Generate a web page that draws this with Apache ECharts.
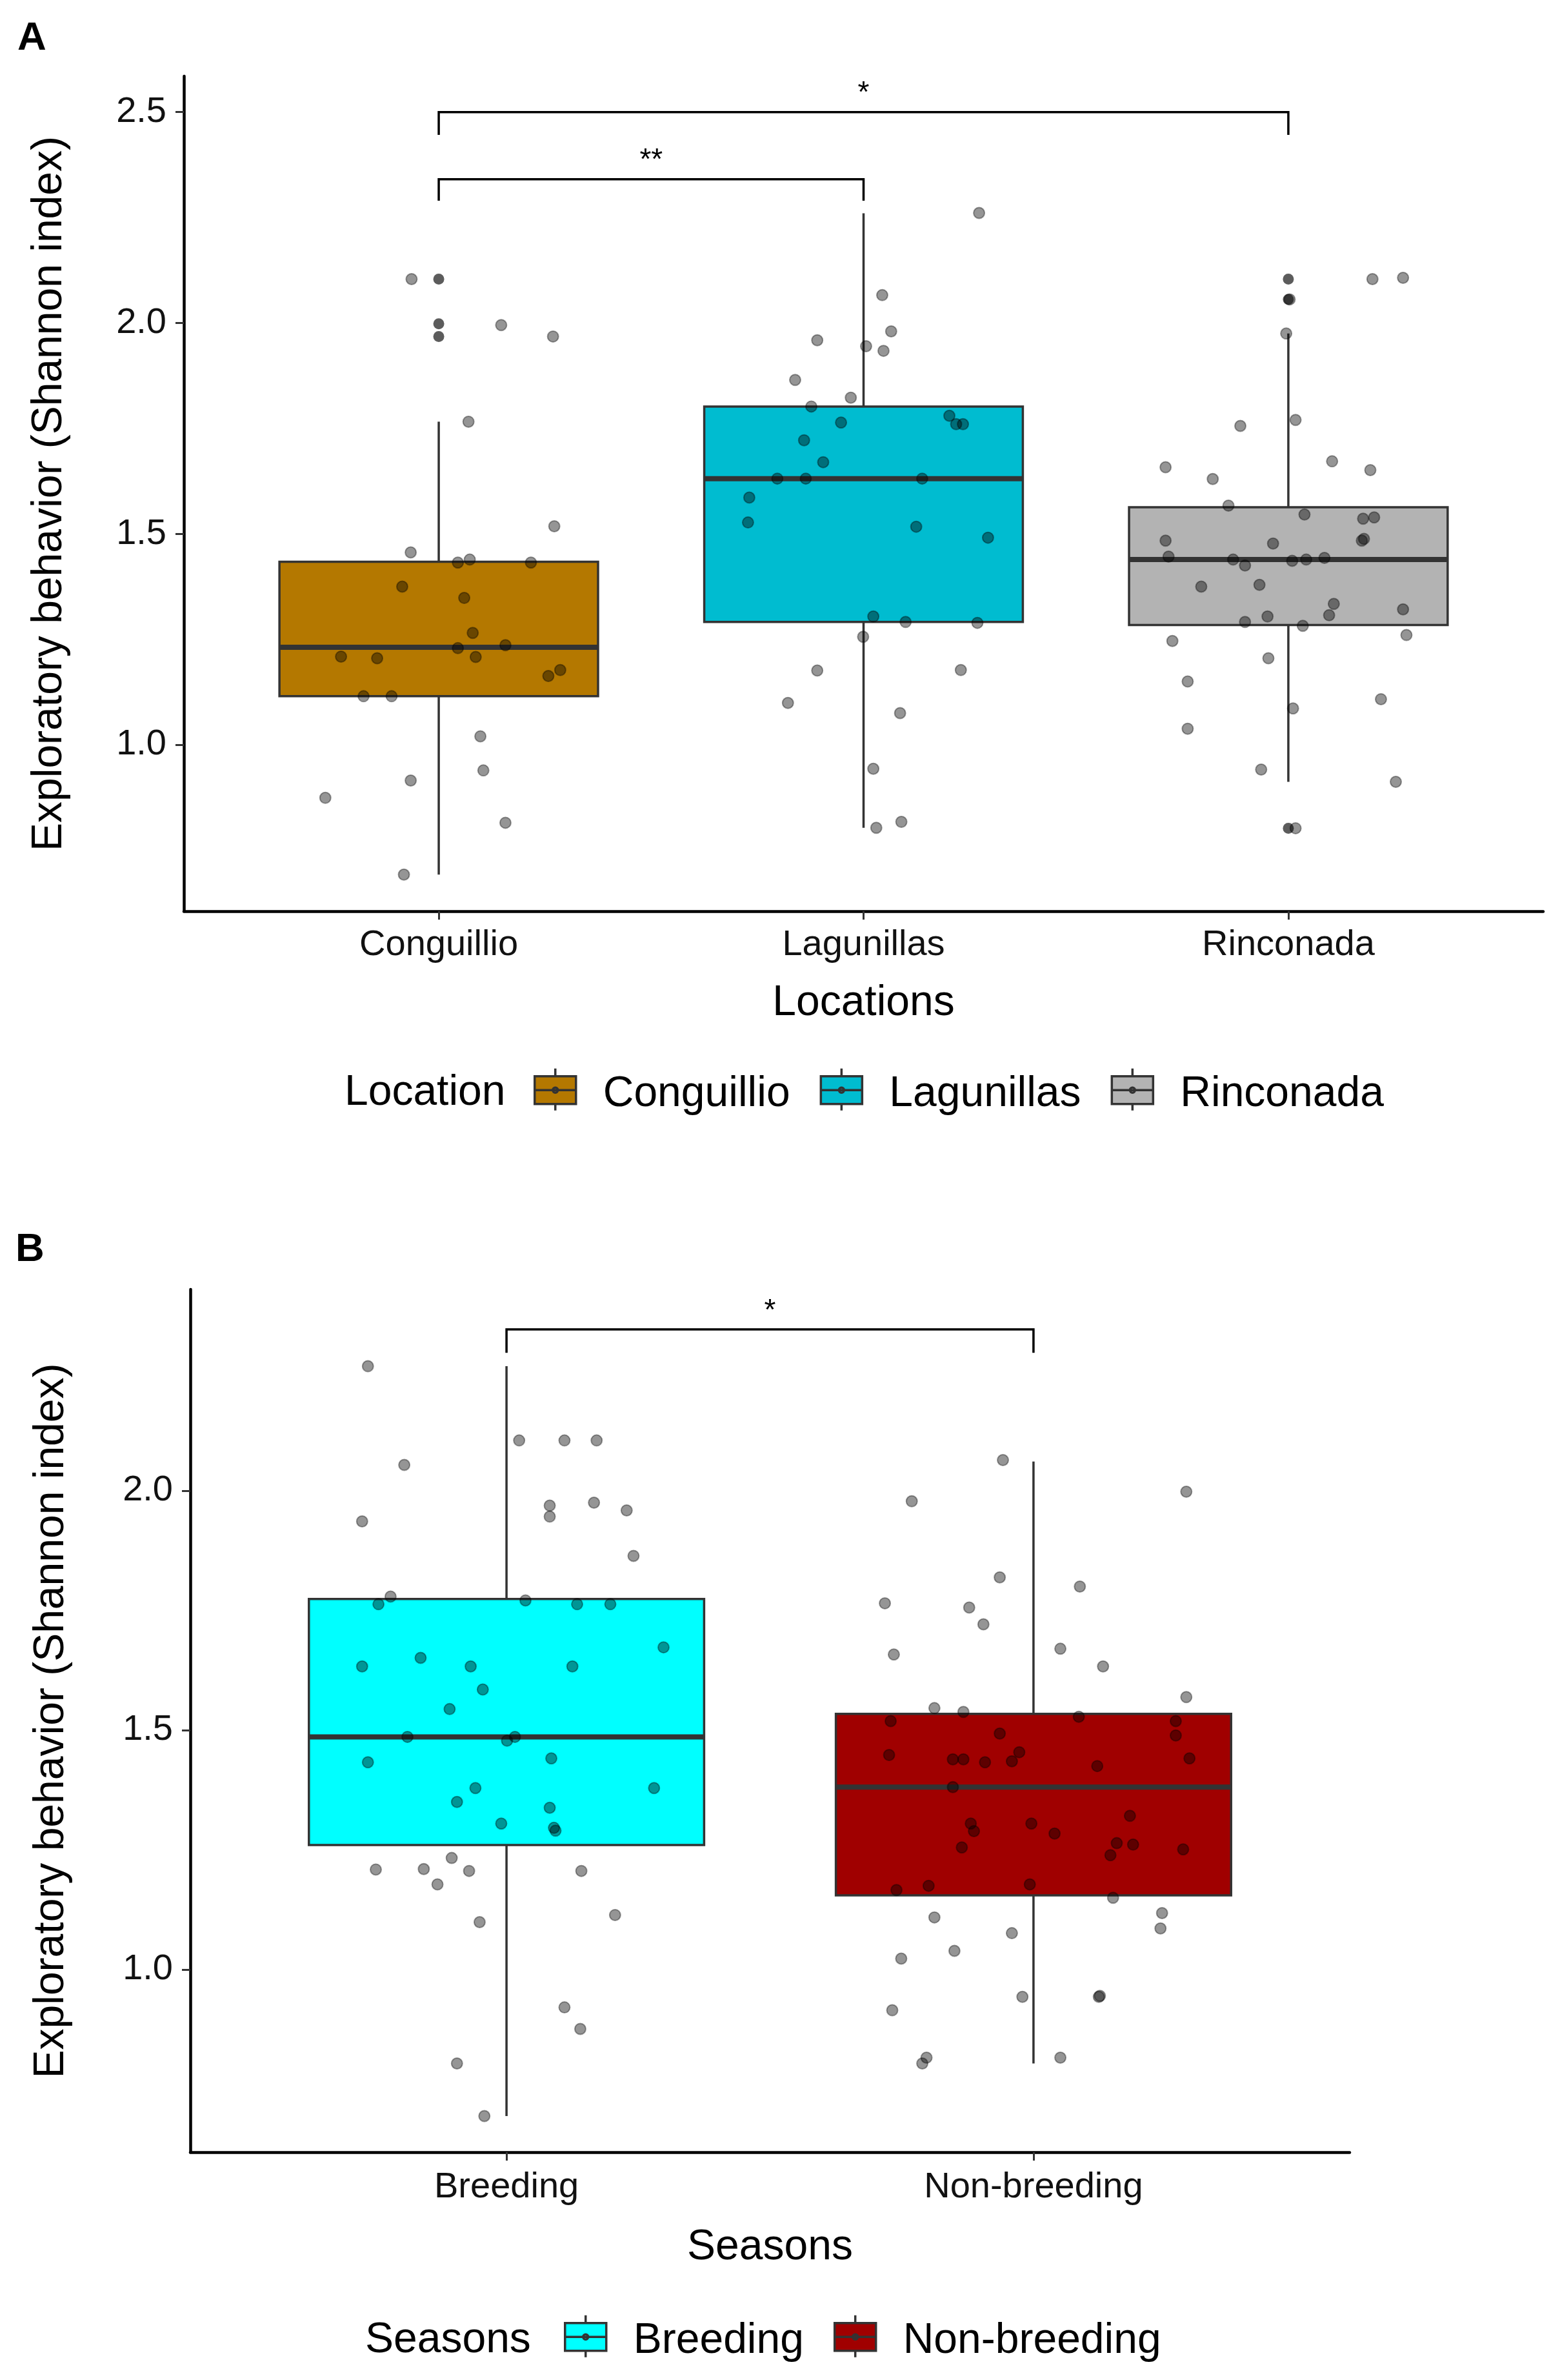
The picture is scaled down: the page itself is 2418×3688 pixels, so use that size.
<!DOCTYPE html>
<html>
<head>
<meta charset="utf-8">
<script src="https://cdn.jsdelivr.net/npm/echarts@6/dist/echarts.min.js"></script>
<style>
  body { margin: 0; background: #fff; }
  #chart { width: 2418px; height: 3688px; }
</style>
</head>
<body>
<div id="chart"></div>
<script>
// panel A: locations
const locations = ['Conguillio', 'Lagunillas', 'Rinconada'];
const locColors = ['#B47800', '#00BCD0', '#B3B3B3'];
// [x, lower whisker, Q1, median, Q3, upper whisker]
const locBoxes = [
  [1, 0.692, 1.115, 1.231, 1.434, 1.766],
  [2, 0.803, 1.291, 1.631, 1.802, 2.260],
  [3, 0.912, 1.284, 1.439, 1.563, 1.975]
];
const locOutliers = [[1, 2.104], [1, 1.998], [1, 1.968], [3, 2.104], [3, 2.056], [3, 0.802]];

const conguillioPts = [
  [0.936, 2.104], [1.147, 1.995], [1.269, 1.968], [1.070, 1.766], [1.272, 1.518], [0.934, 1.456],
  [1.045, 1.432], [1.073, 1.439], [1.217, 1.432], [0.914, 1.375], [1.060, 1.348], [1.080, 1.265],
  [1.045, 1.229], [1.157, 1.236], [0.770, 1.209], [0.855, 1.205], [1.087, 1.208], [1.258, 1.163],
  [1.286, 1.177], [0.823, 1.115], [0.889, 1.115], [1.098, 1.020], [1.105, 0.939], [0.934, 0.915],
  [0.733, 0.874], [1.157, 0.815], [0.918, 0.692]
];
const lagunillasPts = [
  [2.272, 2.261], [2.044, 2.066], [2.065, 1.980], [2.006, 1.945], [2.047, 1.934], [1.891, 1.959],
  [1.839, 1.865], [1.970, 1.823], [1.877, 1.802], [1.947, 1.764], [1.860, 1.722], [1.905, 1.670],
  [1.797, 1.631], [1.864, 1.631], [2.138, 1.631], [1.731, 1.586], [1.728, 1.527], [2.124, 1.517],
  [2.023, 1.304], [2.099, 1.291], [1.999, 1.256], [1.891, 1.176], [1.822, 1.099], [2.086, 1.075],
  [2.023, 0.943], [2.030, 0.803], [2.089, 0.817], [2.202, 1.780], [2.218, 1.760], [2.234, 1.760],
  [2.293, 1.491], [2.268, 1.289], [2.229, 1.177]
];
const rinconadaPts = [
  [2.995, 1.975], [3.198, 2.104], [3.270, 2.107], [3.017, 1.770], [2.887, 1.756], [3.103, 1.672],
  [2.711, 1.658], [3.193, 1.651], [2.822, 1.630], [2.859, 1.567], [3.038, 1.546], [3.176, 1.536],
  [3.202, 1.539], [2.711, 1.484], [3.173, 1.484], [3.178, 1.488], [2.964, 1.477], [2.718, 1.446],
  [2.870, 1.439], [2.898, 1.425], [3.009, 1.436], [3.042, 1.439], [3.085, 1.443], [2.795, 1.375],
  [2.932, 1.379], [3.107, 1.334], [3.270, 1.321], [3.096, 1.307], [2.951, 1.304], [2.898, 1.291],
  [3.034, 1.282], [3.278, 1.260], [2.727, 1.246], [2.953, 1.205], [2.763, 1.150], [3.218, 1.108],
  [3.011, 1.086], [2.763, 1.038], [2.936, 0.941], [3.253, 0.912], [3.017, 0.802], [3.003, 2.056]
];
// significance brackets: [from, to, bracket level, tip end]
const locSig = [[1, 2, 2.341, 2.290], [1, 3, 2.500, 2.446]];
const locSigLabels = ['**', '*'];

// panel B: seasons
const seasons = ['Breeding', 'Non-breeding'];
const seasonColors = ['#00FFFF', '#A00000'];
const seasonBoxes = [
  [1, 0.694, 1.260, 1.486, 1.774, 2.260],
  [2, 0.804, 1.155, 1.381, 1.534, 2.061]
];
const breedingPts = [
  [0.737, 2.260], [1.024, 2.105], [1.110, 2.105], [1.171, 2.105], [0.806, 2.054], [1.082, 1.969],
  [1.082, 1.946], [1.166, 1.975], [1.228, 1.959], [0.726, 1.936], [1.241, 1.864], [0.780, 1.779],
  [0.757, 1.763], [1.036, 1.771], [1.134, 1.763], [1.197, 1.763], [1.298, 1.673], [0.837, 1.651],
  [0.726, 1.633], [0.932, 1.633], [1.125, 1.633], [0.955, 1.585], [0.892, 1.544], [0.812, 1.486],
  [1.001, 1.478], [1.016, 1.486], [0.737, 1.433], [1.085, 1.441], [0.941, 1.379], [1.280, 1.379],
  [0.906, 1.350], [1.082, 1.338], [0.990, 1.305], [1.090, 1.296], [1.093, 1.290], [0.752, 1.209],
  [0.843, 1.210], [0.896, 1.233], [0.929, 1.206], [0.869, 1.178], [1.142, 1.206], [0.949, 1.099],
  [1.206, 1.114], [1.110, 0.921], [1.140, 0.876], [0.906, 0.804], [0.958, 0.694]
];
const nonBreedingPts = [
  [1.942, 2.064], [1.769, 1.978], [2.290, 1.998], [1.936, 1.819], [2.088, 1.800], [1.718, 1.765],
  [1.878, 1.756], [1.905, 1.721], [1.735, 1.658], [2.051, 1.670], [2.132, 1.633], [2.290, 1.569],
  [1.812, 1.546], [1.867, 1.538], [1.729, 1.519], [2.086, 1.528], [2.270, 1.519], [2.270, 1.489],
  [1.936, 1.493], [1.973, 1.454], [1.726, 1.448], [1.847, 1.439], [1.867, 1.439], [1.908, 1.433],
  [1.959, 1.435], [2.121, 1.425], [2.296, 1.441], [1.847, 1.381], [1.881, 1.305], [1.887, 1.289],
  [1.996, 1.305], [2.040, 1.284], [2.183, 1.321], [2.158, 1.264], [2.189, 1.261], [2.146, 1.239],
  [1.864, 1.255], [2.284, 1.251], [1.740, 1.166], [1.801, 1.175], [1.993, 1.178], [2.151, 1.150],
  [1.812, 1.109], [2.244, 1.118], [2.241, 1.086], [1.959, 1.076], [1.850, 1.039], [1.749, 1.023],
  [1.979, 0.943], [2.124, 0.943], [2.126, 0.945], [1.732, 0.915], [1.797, 0.816], [1.789, 0.804],
  [2.051, 0.816]
];
const seasonSig = [[1, 2, 2.337, 2.288]];
const seasonSigLabels = ['*'];

const yTicksA = [1.0, 1.5, 2.0, 2.5];
const yTicksB = [1.0, 1.5, 2.0];

const FONT = 'Liberation Sans, Arial, sans-serif';
const LINE = '#333333';
// legend key: whiskers, box, median and the jitter dot; the last moveTo leaves
// empty room under the key so the label sits a little lower, as in ggplot
const legendIcon = 'path://M32,0V12M0,12H64V55H0ZM0,33.5H64M32,55V65' +
  'M36,33.5A4,4 0 1 1 28,33.5A4,4 0 1 1 36,33.5ZM32,80';

// box without whisker caps, thick median (ggplot style)
function renderBox(params, api) {
  const x = api.value(0);
  const lo = api.coord([x, api.value(1)]);
  const q1 = api.coord([x, api.value(2)]);
  const med = api.coord([x, api.value(3)]);
  const q3 = api.coord([x, api.value(4)]);
  const hi = api.coord([x, api.value(5)]);
  const half = api.size([0.75, 0])[0] / 2;
  return {
    type: 'group',
    children: [
      { type: 'line', shape: { x1: hi[0], y1: hi[1], x2: q3[0], y2: q3[1] }, style: { stroke: LINE, lineWidth: 3.5 } },
      { type: 'line', shape: { x1: q1[0], y1: q1[1], x2: lo[0], y2: lo[1] }, style: { stroke: LINE, lineWidth: 3.5 } },
      { type: 'rect', shape: { x: q3[0] - half, y: q3[1], width: half * 2, height: q1[1] - q3[1] },
        style: { fill: api.visual('color'), stroke: LINE, lineWidth: 3.5 } },
      { type: 'line', shape: { x1: med[0] - half, y1: med[1], x2: med[0] + half, y2: med[1] }, style: { stroke: LINE, lineWidth: 8 } }
    ]
  };
}

function bracketRenderer(labels) {
  return function (params, api) {
    const x1 = api.value(0), x2 = api.value(1), lvl = api.value(2), tip = api.value(3);
    const a = api.coord([x1, tip]);
    const b = api.coord([x1, lvl]);
    const c = api.coord([x2, lvl]);
    const d = api.coord([x2, tip]);
    return {
      type: 'group',
      children: [
        { type: 'polyline', shape: { points: [a, b, c, d] }, style: { stroke: '#000', lineWidth: 3.5, fill: null } },
        { type: 'text', x: (b[0] + c[0]) / 2, y: b[1] - 5,
          style: { text: labels[params.dataIndex], fill: '#000', font: '46px ' + FONT, align: 'center', verticalAlign: 'bottom' } }
      ]
    };
  };
}

function boxSeries(name, box, color, axisIndex) {
  return {
    name: name,
    type: 'custom',
    xAxisIndex: axisIndex,
    yAxisIndex: axisIndex,
    renderItem: renderBox,
    itemStyle: { color: color, borderColor: LINE, borderWidth: 3.5 },
    encode: { x: 0, y: [1, 2, 3, 4, 5] },
    data: [box],
    z: 2
  };
}

const axisText = { fontSize: 56, color: '#111', fontFamily: FONT };
const nameText = { fontSize: 66, color: '#000', fontFamily: FONT };

function xAxisFor(names, idx, gap, labelMargin) {
  const ticks = names.map((n, i) => i + 1);
  return {
    type: 'value', gridIndex: idx, min: 0.4, max: names.length + 0.6,
    name: idx === 0 ? 'Locations' : 'Seasons', nameLocation: 'middle', nameGap: gap, nameTextStyle: nameText,
    axisLine: { show: true, onZero: false, lineStyle: { color: '#000', width: 4.5 } },
    axisTick: { show: true, length: 13, customValues: ticks, lineStyle: { color: LINE, width: 3 } },
    axisLabel: Object.assign({ margin: labelMargin, customValues: ticks, formatter: v => names[Math.round(v) - 1] }, axisText),
    splitLine: { show: false }
  };
}

function yAxisFor(idx, min, max, ticks, gap) {
  return {
    type: 'value', gridIndex: idx, min: min, max: max,
    name: 'Exploratory behavior (Shannon index)', nameLocation: 'middle', nameGap: gap, nameTextStyle: nameText,
    axisLine: { show: true, onZero: false, lineStyle: { color: '#000', width: 4.5 } },
    axisTick: { show: true, length: 13, customValues: ticks, lineStyle: { color: LINE, width: 3 } },
    axisLabel: Object.assign({ margin: 27, customValues: ticks, formatter: v => v.toFixed(1) }, axisText),
    splitLine: { show: false }
  };
}

const jitterStyle = { color: 'rgba(0,0,0,0.52)', borderColor: 'rgba(0,0,0,0.45)', borderWidth: 2 };

const series = [];
locations.forEach((n, i) => series.push(boxSeries(n, locBoxes[i], locColors[i], 0)));
seasons.forEach((n, i) => series.push(boxSeries(n, seasonBoxes[i], seasonColors[i], 1)));
series.push({
  name: 'outliersA', type: 'scatter', xAxisIndex: 0, yAxisIndex: 0, symbolSize: 17,
  itemStyle: { color: LINE }, data: locOutliers, z: 3
});
series.push({
  name: 'pointsA', type: 'scatter', xAxisIndex: 0, yAxisIndex: 0, symbolSize: 17,
  itemStyle: jitterStyle, data: conguillioPts.concat(lagunillasPts, rinconadaPts), z: 4
});
series.push({
  name: 'pointsB', type: 'scatter', xAxisIndex: 1, yAxisIndex: 1, symbolSize: 17,
  itemStyle: jitterStyle, data: breedingPts.concat(nonBreedingPts), z: 4
});
series.push({
  name: 'sigA', type: 'custom', xAxisIndex: 0, yAxisIndex: 0, clip: false,
  renderItem: bracketRenderer(locSigLabels), encode: { x: [0, 1], y: [2, 3] }, data: locSig, z: 5
});
series.push({
  name: 'sigB', type: 'custom', xAxisIndex: 1, yAxisIndex: 1, clip: false,
  renderItem: bracketRenderer(seasonSigLabels), encode: { x: [0, 1], y: [2, 3] }, data: seasonSig, z: 5
});

function legendFor(names, colors, left, top) {
  return {
    left: left, top: top, orient: 'horizontal', padding: 0, itemGap: 46,
    itemWidth: 64, itemHeight: 80, selectedMode: false,
    itemStyle: { borderColor: LINE, borderWidth: 3.5 },
    textStyle: { fontSize: 66, color: '#000', fontFamily: FONT, padding: [0, 0, 0, 37] },
    data: names.map((n, i) => ({ name: n, icon: legendIcon, itemStyle: { color: colors[i], borderColor: LINE, borderWidth: 3.5 } }))
  };
}

const chart = echarts.init(document.getElementById('chart'));
chart.setOption({
  animation: false,
  backgroundColor: '#fff',
  grid: [
    { left: 285, top: 118, width: 2107, height: 1294 },
    { left: 295, top: 1998, width: 1797, height: 1337 }
  ],
  xAxis: [xAxisFor(locations, 0, 110, 25), xAxisFor(seasons, 1, 115, 27)],
  yAxis: [yAxisFor(0, 0.6052, 2.5853, yTicksA, 175), yAxisFor(1, 0.6186, 2.4205, yTicksB, 182)],
  legend: [legendFor(locations, locColors, 827, 1654), legendFor(seasons, seasonColors, 874, 3586)],
  graphic: [
    { type: 'text', left: 27, top: 29, style: { text: 'A', font: 'bold 62px ' + FONT, fill: '#000' } },
    { type: 'text', left: 24, top: 1906, style: { text: 'B', font: 'bold 62px ' + FONT, fill: '#000' } },
    { type: 'text', left: 534, top: 1661, style: { text: 'Location', font: '66px ' + FONT, fill: '#000' } },
    { type: 'text', left: 566, top: 3594, style: { text: 'Seasons', font: '66px ' + FONT, fill: '#000' } }
  ],
  series: series
});
</script>
</body>
</html>
